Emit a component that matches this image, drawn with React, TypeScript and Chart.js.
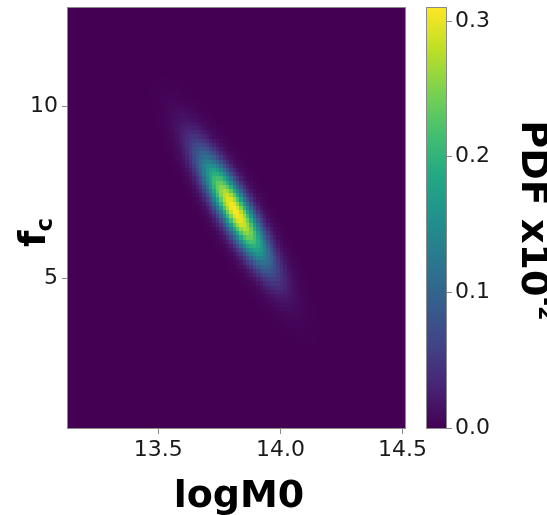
import React, { useEffect, useRef } from 'react';
import { Chart, registerables } from 'chart.js';

Chart.register(...registerables);

// ---- data ----
const xLimits = [13.13, 14.51];
const yLimits = [0.64, 12.85];
const xTicks = [13.5, 14.0, 14.5];
const yTicks = [5, 10];
const cbTicks = [0.0, 0.1, 0.2, 0.3];
const cbLimits = [0, 0.3096];
const gridShape = [100, 100]; // columns, rows of the PDF image
// the PDF image is a correlated 2-D gaussian; its parameters
const peakCenter = [13.815, 6.98];
const peakSigma = [0.096, 1.09];
const peakRho = [-0.87];
const peakPdf = [0.3096];

// ---- style ----
const VIRIDIS = [
  '#440154', '#482475', '#414487', '#355f8d', '#2a788e', '#21918c',
  '#22a884', '#44bf70', '#7ad151', '#bddf26', '#fde725',
];
const FONT = "'DejaVu Sans', sans-serif";
const TEXT = '#1a1a1a';
const SPINE = '#8a8a8a';

function hexToRgb(h: string) {
  return [parseInt(h.slice(1, 3), 16), parseInt(h.slice(3, 5), 16), parseInt(h.slice(5, 7), 16)];
}
const VIR_RGB = VIRIDIS.map(hexToRgb);
function viridis(t: number) {
  const c = Math.max(0, Math.min(1, t)) * (VIR_RGB.length - 1);
  const i = Math.min(VIR_RGB.length - 2, Math.floor(c));
  const f = c - i;
  const a = VIR_RGB[i];
  const b = VIR_RGB[i + 1];
  return `rgb(${Math.round(a[0] + (b[0] - a[0]) * f)},${Math.round(a[1] + (b[1] - a[1]) * f)},${Math.round(a[2] + (b[2] - a[2]) * f)})`;
}

type Cell = { x: number; y: number; v: number; x0: number; x1: number; y0: number; y1: number };

function buildCells(): Cell[] {
  const [nx, ny] = gridShape;
  const dx = (xLimits[1] - xLimits[0]) / nx;
  const dy = (yLimits[1] - yLimits[0]) / ny;
  const rho = peakRho[0];
  const cells: Cell[] = [];
  for (let j = 0; j < ny; j++) {
    for (let i = 0; i < nx; i++) {
      const x0 = xLimits[0] + i * dx;
      const y0 = yLimits[0] + j * dy;
      const x = x0 + dx / 2;
      const y = y0 + dy / 2;
      const zx = (x - peakCenter[0]) / peakSigma[0];
      const zy = (y - peakCenter[1]) / peakSigma[1];
      const q = (zx * zx - 2 * rho * zx * zy + zy * zy) / (1 - rho * rho);
      cells.push({ x, y, v: peakPdf[0] * Math.exp(-0.5 * q), x0, x1: x0 + dx, y0, y1: y0 + dy });
    }
  }
  return cells;
}

const heatPlugin = {
  id: 'heat',
  beforeDatasetsDraw(chart: any) {
    const { ctx, chartArea, scales } = chart;
    const data = chart.data.datasets[0].data as Cell[];
    ctx.save();
    ctx.beginPath();
    ctx.rect(chartArea.left, chartArea.top, chartArea.right - chartArea.left, chartArea.bottom - chartArea.top);
    ctx.clip();
    for (const c of data) {
      const px0 = Math.floor(scales.x.getPixelForValue(c.x0));
      const px1 = Math.ceil(scales.x.getPixelForValue(c.x1));
      const py0 = Math.ceil(scales.y.getPixelForValue(c.y0));
      const py1 = Math.floor(scales.y.getPixelForValue(c.y1));
      ctx.fillStyle = viridis((c.v - cbLimits[0]) / (cbLimits[1] - cbLimits[0]));
      ctx.fillRect(px0, py1, px1 - px0, py0 - py1);
    }
    ctx.restore();
  },
  afterDraw(chart: any) {
    const { ctx, chartArea } = chart;
    ctx.save();
    ctx.strokeStyle = SPINE;
    ctx.lineWidth = 1;
    ctx.strokeRect(chartArea.left - 0.5, chartArea.top - 0.5, chartArea.right - chartArea.left + 1, chartArea.bottom - chartArea.top + 1);

    // x title
    ctx.fillStyle = '#000';
    ctx.font = `bold 38px ${FONT}`;
    ctx.textAlign = 'center';
    ctx.textBaseline = 'alphabetic';
    ctx.fillText('logM0', 239, 507);

    // y title f_c (rotated)
    ctx.translate(45, 247);
    ctx.rotate(-Math.PI / 2);
    ctx.textAlign = 'left';
    ctx.font = `bold 38px ${FONT}`;
    ctx.fillText('f', 0, 0);
    const fw = ctx.measureText('f').width;
    ctx.font = `bold 23px ${FONT}`;
    ctx.fillText('c', fw - 1, 7);
    ctx.restore();
  },
};

const cbPlugin = {
  id: 'cb',
  beforeDatasetsDraw(chart: any) {
    const { ctx, chartArea, scales } = chart;
    const s = scales.y;
    ctx.save();
    for (let py = Math.floor(chartArea.top); py < Math.ceil(chartArea.bottom); py++) {
      const v = s.getValueForPixel(py + 0.5);
      ctx.fillStyle = viridis((v - cbLimits[0]) / (cbLimits[1] - cbLimits[0]));
      ctx.fillRect(chartArea.left, py, chartArea.right - chartArea.left, 1);
    }
    ctx.strokeStyle = SPINE;
    ctx.lineWidth = 1;
    ctx.strokeRect(chartArea.left - 0.5, chartArea.top - 0.5, chartArea.right - chartArea.left + 1, chartArea.bottom - chartArea.top + 1);
    ctx.restore();
  },
  afterDraw(chart: any) {
    const { ctx, chartArea } = chart;
    ctx.save();
    ctx.fillStyle = '#000';
    const main = 'PDF x10';
    const sup = '-2';
    ctx.font = `bold 38px ${FONT}`;
    const mw = ctx.measureText(main).width;
    ctx.font = `bold 21px ${FONT}`;
    const sw = ctx.measureText(sup).width;
    const cy = (chartArea.top + chartArea.bottom) / 2 + 2;
    ctx.translate(101.5, cy - (mw + sw) / 2);
    ctx.rotate(Math.PI / 2);
    ctx.textAlign = 'left';
    ctx.textBaseline = 'alphabetic';
    ctx.font = `bold 38px ${FONT}`;
    ctx.fillText(main, 0, 0);
    ctx.font = `bold 21px ${FONT}`;
    ctx.fillText(sup, mw + 1, -17);
    ctx.restore();
  },
};

const noPadV = (s: any) => { s.paddingTop = 0; s.paddingBottom = 0; };
const noPadH = (s: any) => { s.paddingLeft = 0; s.paddingRight = 0; };

export default function App() {
  const mainRef = useRef<HTMLCanvasElement>(null);
  const cbRef = useRef<HTMLCanvasElement>(null);

  useEffect(() => {
    Chart.defaults.font.family = FONT;
    const cells = buildCells();
    const main = new Chart(mainRef.current!, {
      type: 'scatter',
      data: { datasets: [{ data: cells as any, pointRadius: 0, pointHoverRadius: 0 }] },
      options: {
        animation: false,
        responsive: false,
        events: [],
        plugins: { legend: { display: false }, tooltip: { enabled: false } },
        layout: { padding: { left: 0, top: 8, right: 142, bottom: 0 } },
        scales: {
          x: {
            type: 'linear',
            min: xLimits[0],
            max: xLimits[1],
            afterBuildTicks: (s: any) => { s.ticks = xTicks.map((v) => ({ value: v })); },
            afterFit: (s: any) => { s.height = 87; noPadH(s); },
            ticks: { callback: (v: any) => Number(v).toFixed(1), font: { size: 22 }, color: TEXT, padding: 3, maxRotation: 0, autoSkip: false },
            grid: { drawOnChartArea: false, tickLength: 6, color: SPINE },
            border: { display: false },
          },
          y: {
            type: 'linear',
            min: yLimits[0],
            max: yLimits[1],
            afterBuildTicks: (s: any) => { s.ticks = yTicks.map((v) => ({ value: v })); },
            afterFit: (s: any) => { s.width = 68; noPadV(s); },
            ticks: { callback: (v: any) => String(v), font: { size: 22 }, color: TEXT, padding: 4, autoSkip: false },
            grid: { drawOnChartArea: false, tickLength: 6, color: SPINE },
            border: { display: false },
          },
        },
      },
      plugins: [heatPlugin],
    });

    const cb = new Chart(cbRef.current!, {
      type: 'scatter',
      data: { datasets: [{ data: [], pointRadius: 0 }] },
      options: {
        animation: false,
        responsive: false,
        events: [],
        plugins: { legend: { display: false }, tooltip: { enabled: false } },
        layout: { padding: { left: 7, top: 8, right: 0, bottom: 87 } },
        scales: {
          x: { type: 'linear', display: false, min: 0, max: 1 },
          y: {
            type: 'linear',
            position: 'right',
            min: cbLimits[0],
            max: cbLimits[1],
            afterBuildTicks: (s: any) => { s.ticks = cbTicks.map((v) => ({ value: v })); },
            afterFit: (s: any) => { s.width = 101; noPadV(s); },
            ticks: { callback: (v: any) => Number(v).toFixed(1), font: { size: 22 }, color: TEXT, padding: 3, autoSkip: false },
            grid: { drawOnChartArea: false, tickLength: 6, color: SPINE },
            border: { display: false },
          },
        },
      },
      plugins: [cbPlugin],
    });

    return () => {
      main.destroy();
      cb.destroy();
    };
  }, []);

  return (
    <div style={{ position: 'absolute', left: 0, top: 0, width: 547, height: 515, background: '#fff', overflow: 'hidden' }}>
      <canvas ref={mainRef} width={547} height={515} style={{ position: 'absolute', left: 0, top: 0, width: 547, height: 515 }} />
      <canvas ref={cbRef} width={127} height={515} style={{ position: 'absolute', left: 420, top: 0, width: 127, height: 515 }} />
    </div>
  );
}
